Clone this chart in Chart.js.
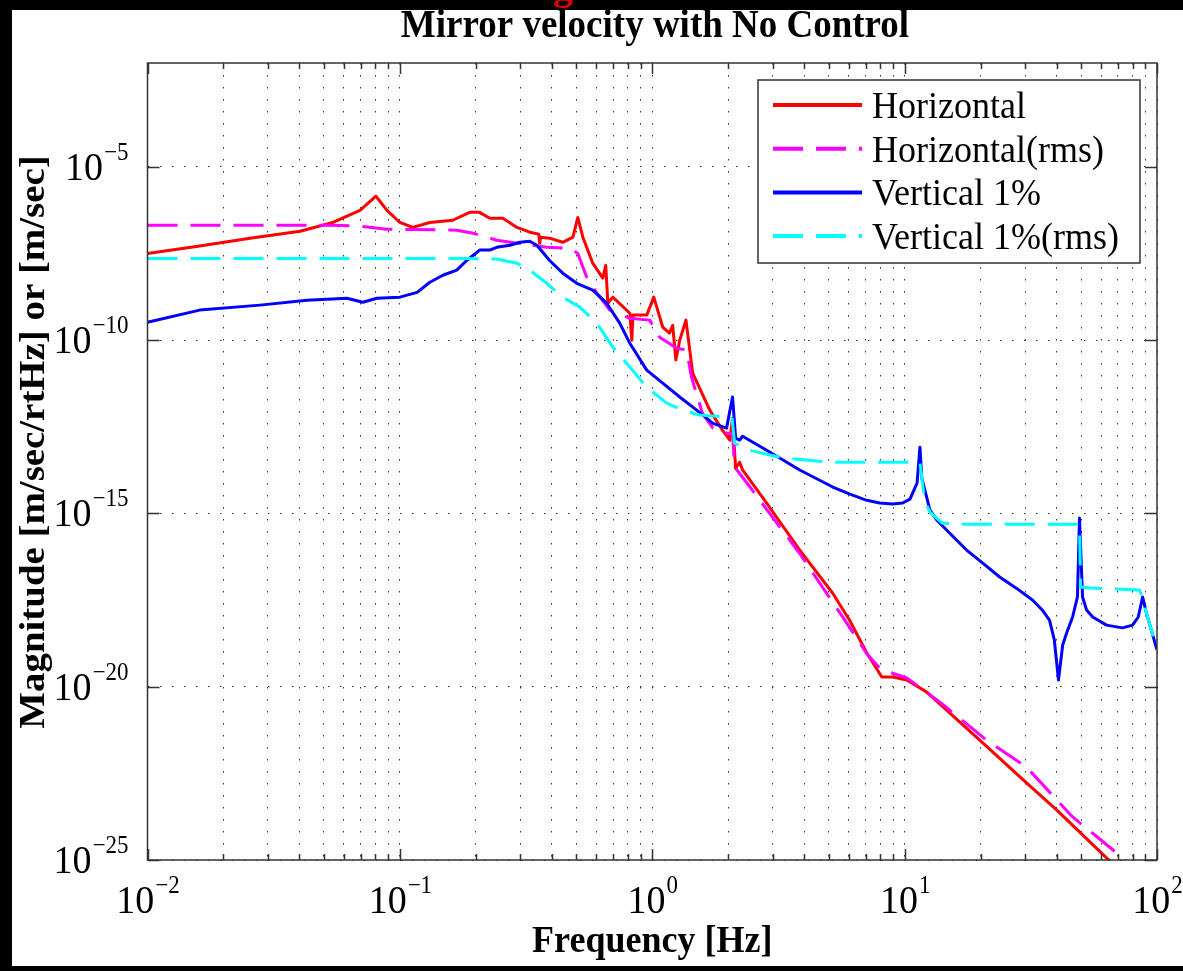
<!DOCTYPE html>
<html>
<head>
<meta charset="utf-8">
<script src="https://cdn.jsdelivr.net/npm/chart.js@4"></script>
<style>
  html, body { margin: 0; padding: 0; background: #fff; }
  #wrap { width: 1183px; height: 971px; }
</style>
</head>
<body>
<div id="wrap"><canvas id="chart" width="1183" height="971"></canvas></div>
<script>
// values (frequency in Hz, magnitude)
const hFreq = [0.01, 0.0161, 0.0255, 0.0402, 0.0543, 0.0695, 0.0804, 0.0889, 0.1, 0.1125, 0.1315, 0.162, 0.189, 0.207, 0.227, 0.256, 0.291, 0.327, 0.355, 0.358, 0.361, 0.392, 0.442, 0.485, 0.507, 0.531, 0.581, 0.637, 0.654, 0.667, 0.698, 0.815, 0.830, 0.838, 0.951, 1.014, 1.10, 1.17, 1.205, 1.24, 1.285, 1.36, 1.446, 1.69, 1.90, 2.03, 2.08, 2.14, 2.22, 2.28, 2.84, 3.84, 5.19, 6.07, 7.08, 8.12, 8.97, 10.2, 12.2, 20.4, 30.4, 40.0, 63.1, 100]
const hMag = [3.2e-8, 5.2e-8, 8.8e-8, 1.4e-7, 2.5e-7, 5.6e-7, 1.43e-6, 5.6e-7, 2.5e-7, 1.8e-7, 2.5e-7, 2.9e-7, 4.9e-7, 4.9e-7, 3.3e-7, 3.3e-7, 1.8e-7, 1.31e-7, 1.15e-7, 6.3e-8, 9.4e-8, 8.8e-8, 6.7e-8, 9.4e-8, 3.5e-7, 9.4e-8, 1.67e-8, 6.2e-9, 1.46e-8, 1.17e-9, 1.75e-9, 6.0e-10, 1.0e-10, 5.3e-10, 5.3e-10, 1.75e-9, 2.4e-10, 1.6e-10, 2.7e-10, 2.7e-11, 1e-10, 3.8e-10, 1.12e-11, 9.6e-13, 2.5e-13, 1.3e-13, 5.5e-13, 2.0e-14, 3.0e-14, 1.8e-14, 2.0e-15, 8.8e-17, 5.0e-18, 8.0e-19, 9.4e-20, 1.9e-20, 1.9e-20, 1.57e-20, 7.1e-21, 2.4e-22, 1.67e-23, 2.8e-24, 1.15e-25, 5.8e-27]

const hRmsFreq = [0.01, 0.0528, 0.0695, 0.089, 0.168, 0.195, 0.242, 0.291, 0.382, 0.471, 0.507, 0.550, 0.603, 0.679, 0.815, 0.977, 1.07, 1.25, 1.37, 1.43, 1.58, 1.74, 1.97, 2.08, 2.12, 2.43, 3.84, 5.89, 7.08, 7.96, 8.49, 10.2, 13.8, 21.1, 30.4, 46.3, 69.2, 100]
const hRmsMag = [2.08e-7, 2.08e-7, 1.95e-7, 1.6e-7, 1.5e-7, 1.22e-7, 7.7e-8, 6.3e-8, 4.8e-8, 4.5e-8, 3.2e-8, 6.6e-9, 2.3e-9, 7.4e-10, 4.3e-10, 3.8e-10, 1.22e-10, 5.9e-11, 5.2e-11, 8.6e-12, 7.9e-13, 2.9e-13, 2.1e-13, 2.0e-13, 2.2e-14, 6.0e-15, 7.0e-17, 7.0e-19, 9.0e-20, 3.5e-20, 2.8e-20, 1.8e-20, 3.6e-21, 2.9e-22, 4.8e-23, 1.75e-24, 1.6e-25, 1.4e-26]

const vFreq = [0.01, 0.0161, 0.0279, 0.0429, 0.0617, 0.0713, 0.0811, 0.1, 0.117, 0.1315, 0.148, 0.168, 0.184, 0.207, 0.227, 0.242, 0.273, 0.299, 0.327, 0.349, 0.392, 0.442, 0.502, 0.581, 0.660, 0.743, 0.815, 0.951, 1.10, 1.285, 1.50, 1.74, 1.97, 2.08, 2.14, 2.22, 2.28, 2.84, 3.84, 5.19, 6.07, 7.08, 7.96, 8.97, 9.82, 10.5, 11.2, 11.5, 11.7, 12.6, 13.4, 15.1, 17.6, 20.4, 23.8, 27.7, 32.1, 35.1, 37.5, 39.2, 40.7, 42.3, 43.8, 46.3, 48.4, 49.3, 50.7, 52.6, 55.6, 63.1, 73.0, 80.0, 84.3, 87.7, 90.8, 100]
const vMag = [3.3e-10, 7.4e-10, 1.03e-9, 1.43e-9, 1.63e-9, 1.25e-9, 1.63e-9, 1.75e-9, 2.4e-9, 4.7e-9, 7.5e-9, 1.05e-8, 2.0e-8, 4.0e-8, 4.0e-8, 4.8e-8, 5.5e-8, 6.7e-8, 7.2e-8, 5.5e-8, 2.0e-8, 8.6e-9, 4.4e-9, 2.8e-9, 1.17e-9, 3.1e-10, 8.2e-11, 1.37e-11, 5.8e-12, 2.3e-12, 9.6e-13, 4.0e-13, 2.9e-13, 2.3e-12, 1.5e-13, 1.3e-13, 1.7e-13, 6.7e-14, 1.8e-14, 5.8e-15, 3.6e-15, 2.4e-15, 2.0e-15, 1.87e-15, 2.0e-15, 2.6e-15, 7.5e-15, 8.2e-14, 1.05e-14, 1.25e-15, 6.5e-16, 2.7e-16, 8.8e-17, 3.7e-17, 1.47e-17, 7.0e-18, 3.2e-18, 1.64e-18, 8.4e-19, 2.2e-19, 1.57e-20, 1.6e-19, 3.5e-19, 1.03e-18, 3.9e-18, 7.4e-16, 3.9e-18, 1.64e-18, 1.03e-18, 6.0e-19, 5.0e-19, 6.0e-19, 1.03e-18, 3.9e-18, 1.34e-18, 1.15e-19]

const vRmsFreq = [0.01, 0.178, 0.242, 0.291, 0.327, 0.382, 0.442, 0.516, 0.603, 0.698, 0.815, 0.951, 1.14, 1.32, 1.54, 2.07, 2.12, 2.43, 3.29, 5.19, 11.5, 12.0, 12.6, 14.1, 16.5, 49.3, 49.8, 54.1, 85.3, 87.7, 90.8, 100]
const vRmsMag = [2.3e-8, 2.3e-8, 2.2e-8, 1.67e-8, 1.05e-8, 4.4e-9, 1.75e-9, 9.0e-10, 3.1e-10, 6.3e-11, 1.67e-11, 4.4e-12, 1.53e-12, 9.6e-13, 6.9e-13, 6.0e-13, 1.07e-13, 6.7e-14, 4.0e-14, 3.0e-14, 3.0e-14, 2.4e-15, 1.1e-15, 5.3e-16, 4.9e-16, 4.9e-16, 7.5e-18, 7.1e-18, 6.2e-18, 3.6e-18, 1.34e-18, 1.15e-19]

const seriesLabels = ["Horizontal", "Horizontal(rms)", "Vertical 1%", "Vertical 1%(rms)"]

// axis ticks
const xTickValues = [0.01, 0.02, 0.03, 0.04, 0.05, 0.06, 0.07, 0.08, 0.09, 0.1, 0.2, 0.3, 0.4, 0.5, 0.6, 0.7, 0.8, 0.9, 1, 2, 3, 4, 5, 6, 7, 8, 9, 10, 20, 30, 40, 50, 60, 70, 80, 90, 100]
const xMajorTicks = [0.01, 0.1, 1, 10, 100]
const xTickExp = ["−2", "−1", "0", "1", "2"]
const yTickValues = [1e-25, 1e-20, 1e-15, 1e-10, 1e-5]
const yTickExp = ["−25", "−20", "−15", "−10", "−5"]

const SERIF = '"Liberation Serif", "Times New Roman", serif'
const STRETCH = 1.08

function toPoints(freqs, mags) {
  return freqs.map((f, i) => ({ x: f, y: mags[i] }))
}

function stretchedText(ctx, text, x, y, font, align) {
  ctx.save()
  ctx.font = font
  ctx.textAlign = align || "left"
  ctx.textBaseline = "alphabetic"
  ctx.fillStyle = "#000"
  ctx.translate(x, y)
  ctx.scale(1, STRETCH)
  ctx.fillText(text, 0, 0)
  ctx.restore()
}

function powerLabel(ctx, exp, x, y, align) {
  const base = `38px ${SERIF}`
  const sup = `23px ${SERIF}`
  ctx.font = base
  const w1 = ctx.measureText("10").width
  ctx.font = sup
  const w2 = ctx.measureText(exp).width
  const left = align === "right" ? x - w1 - w2 : x - (w1 + w2) / 2
  stretchedText(ctx, "10", left, y, base)
  stretchedText(ctx, exp, left + w1 + 1, y - 20, sup)
}

const framePlugin = {
  id: "frame",
  beforeDraw(chart) {
    const ctx = chart.ctx
    ctx.save()
    ctx.fillStyle = "#fff"
    ctx.fillRect(0, 0, chart.width, chart.height)
    ctx.fillStyle = "#000"
    ctx.fillRect(0, 0, chart.width, 10)
    ctx.fillRect(0, 0, 12, chart.height)
    ctx.fillRect(0, chart.height - 5, chart.width, 5)
    ctx.fillStyle = "#e00000"
    ctx.font = `bold 40px ${SERIF}`
    ctx.fillText("g", 553, -1)
    ctx.restore()
  },
}

const axesPlugin = {
  id: "matlabAxes",
  afterDraw(chart) {
    const ctx = chart.ctx
    const { left, right, top, bottom } = chart.chartArea
    const xs = chart.scales.x
    const ys = chart.scales.y

    ctx.save()
    ctx.strokeStyle = "#333"
    ctx.lineWidth = 1.5
    ctx.strokeRect(left, top, right - left, bottom - top)

    ctx.beginPath()
    xTickValues.forEach((v) => {
      const px = Math.round(xs.getPixelForValue(v)) + 0.5
      const len = xMajorTicks.includes(v) ? 11 : 6
      ctx.moveTo(px, bottom); ctx.lineTo(px, bottom - len)
      ctx.moveTo(px, top); ctx.lineTo(px, top + len)
    })
    yTickValues.forEach((v) => {
      const py = Math.round(ys.getPixelForValue(v)) + 0.5
      ctx.moveTo(left, py); ctx.lineTo(left + 12, py)
      ctx.moveTo(right, py); ctx.lineTo(right - 12, py)
    })
    ctx.stroke()
    ctx.restore()

    xMajorTicks.forEach((v, i) => powerLabel(ctx, xTickExp[i], xs.getPixelForValue(v), bottom + 53, "center"))
    yTickValues.forEach((v, i) => powerLabel(ctx, yTickExp[i], left - 20, ys.getPixelForValue(v) + 13, "right"))

    stretchedText(ctx, "Mirror velocity with No Control", 655, 37, `bold 37px ${SERIF}`, "center")
    stretchedText(ctx, "Frequency [Hz]", (left + right) / 2, 952, `bold 36px ${SERIF}`, "center")

    ctx.save()
    ctx.translate(44, 442)
    ctx.rotate(-Math.PI / 2)
    ctx.scale(STRETCH, 1)
    ctx.font = `bold 36px ${SERIF}`
    ctx.textAlign = "center"
    ctx.fillStyle = "#000"
    ctx.fillText("Magnitude [m/sec/rtHz] or [m/sec]", 0, 0)
    ctx.restore()

    // legend box, top right inside the axes
    ctx.save()
    ctx.fillStyle = "#fff"
    ctx.fillRect(758, 80, 382, 183)
    ctx.strokeStyle = "#333"
    ctx.lineWidth = 1.5
    ctx.strokeRect(758, 80, 382, 183)
    chart.data.datasets.forEach((ds, i) => {
      const y = 105 + i * 43.7
      ctx.beginPath()
      ctx.strokeStyle = ds.borderColor
      ctx.lineWidth = 4
      ctx.setLineDash(ds.borderDash || [])
      ctx.moveTo(773, y)
      ctx.lineTo(862, y)
      ctx.stroke()
      ctx.setLineDash([])
      stretchedText(ctx, ds.label, 872, y + 13, `36px ${SERIF}`, "left")
    })
    ctx.restore()
  },
}

const dash = [30, 13]

new Chart(document.getElementById("chart"), {
  type: "scatter",
  data: {
    datasets: [
      { label: seriesLabels[0], data: toPoints(hFreq, hMag), borderColor: "#ff0000", borderWidth: 3, order: 4 },
      { label: seriesLabels[1], data: toPoints(hRmsFreq, hRmsMag), borderColor: "#ff00ff", borderWidth: 3, borderDash: dash, order: 3 },
      { label: seriesLabels[2], data: toPoints(vFreq, vMag), borderColor: "#0000ff", borderWidth: 3, order: 2 },
      { label: seriesLabels[3], data: toPoints(vRmsFreq, vRmsMag), borderColor: "#00ffff", borderWidth: 3, borderDash: dash, order: 1 },
    ].map((ds) => ({ ...ds, showLine: true, pointRadius: 0, tension: 0, clip: 0, borderJoinStyle: "round" })),
  },
  options: {
    responsive: false,
    animation: false,
    events: [],
    layout: { padding: { left: 147.5, right: 26, top: 63, bottom: 111 } },
    plugins: { legend: { display: false }, title: { display: false }, tooltip: { enabled: false } },
    scales: {
      x: {
        type: "logarithmic",
        min: 0.01,
        max: 100,
        ticks: { display: false },
        grid: { color: "#333", lineWidth: 1, drawTicks: false },
        border: { display: false, dash: [1.5, 10.5] },
        afterBuildTicks: (scale) => { scale.ticks = xTickValues.map((v) => ({ value: v })) },
      },
      y: {
        type: "logarithmic",
        min: 1e-25,
        max: 1e-2,
        ticks: { display: false },
        grid: { color: "#333", lineWidth: 1, drawTicks: false },
        border: { display: false, dash: [1.5, 10.5] },
        afterBuildTicks: (scale) => { scale.ticks = yTickValues.map((v) => ({ value: v })) },
      },
    },
  },
  plugins: [framePlugin, axesPlugin],
})
</script>
</body>
</html>
